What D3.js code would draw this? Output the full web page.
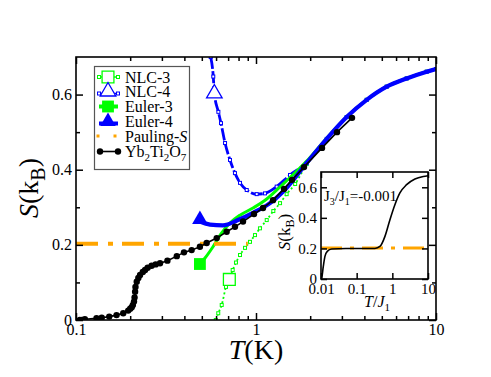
<!DOCTYPE html>
<html>
<head>
<meta charset="utf-8">
<script src="https://cdn.jsdelivr.net/npm/d3@7"></script>
<style>
body { margin: 0; background: #fff; }
svg text { font-family: "Times New Roman", "Liberation Serif", Times, serif !important; fill: #000; }
</style>
</head>
<body>
<svg id="chart"></svg>
<script>
var width = 491;
var height = 377;
var margin = { top: 57, bottom: 57, left: 76, right: 55 };
var serif = "'Times New Roman', 'Liberation Serif', Times, serif";

// Yb2Ti2O7 experiment (black dots)
var ybT = [0.105, 0.108, 0.112, 0.130, 0.139, 0.153, 0.168, 0.183, 0.195, 0.200, 0.204, 0.207, 0.210, 0.2115,
  0.213, 0.214, 0.2175, 0.222, 0.227, 0.235, 0.242, 0.250, 0.263, 0.277, 0.293, 0.322, 0.363, 0.398, 0.439,
  0.488, 0.532, 0.605, 0.687, 0.764, 0.847, 0.975, 1.094, 1.243, 1.431, 1.585, 1.848, 2.327, 2.818, 3.415];
var ybS = [0.0, 0.0, 0.002, 0.0045, 0.006, 0.009, 0.013, 0.018, 0.025, 0.030, 0.034, 0.040, 0.049, 0.060,
  0.075, 0.088, 0.102, 0.112, 0.120, 0.128, 0.133, 0.139, 0.1445, 0.148, 0.151, 0.158, 0.170, 0.180, 0.186,
  0.195, 0.205, 0.218, 0.235, 0.248, 0.262, 0.282, 0.298, 0.319, 0.349, 0.373, 0.407, 0.458, 0.500, 0.538];

// NLC-3 (green dotted)
var nlc3T = [0.598, 0.617, 0.645, 0.681, 0.711, 0.742, 0.774, 0.815, 0.869, 0.926, 0.987, 1.052, 1.147, 1.248,
  1.36, 1.48, 1.65, 1.913, 2.471, 3.19, 4.12, 5.32, 6.87, 8.88, 10];
var nlc3S = [0.0, 0.018, 0.040, 0.088, 0.108, 0.133, 0.153, 0.173, 0.192, 0.208, 0.226, 0.244, 0.266, 0.290,
  0.311, 0.335, 0.362, 0.415, 0.480, 0.540, 0.586, 0.621, 0.643, 0.661, 0.668];

// NLC-4 (blue dashed)
var nlc4T = [0.56, 0.579, 0.587, 0.618, 0.639, 0.673, 0.717, 0.764, 0.815, 0.888, 1.009, 1.122, 1.303, 1.545,
  1.913, 2.471, 3.19, 4.12, 5.32, 6.87, 8.88, 10];
var nlc4S = [0.700, 0.648, 0.603, 0.554, 0.524, 0.471, 0.426, 0.391, 0.365, 0.346, 0.335, 0.337, 0.355, 0.386,
  0.418, 0.482, 0.540, 0.586, 0.621, 0.643, 0.661, 0.668];

// Euler-3 (green solid)
var eul3T = [0.488, 0.521, 0.577, 0.645, 0.717, 0.815, 0.962, 1.147, 1.36, 1.913, 2.471, 3.19, 4.12, 5.32, 6.87, 8.88, 10];
var eul3S = [0.149, 0.165, 0.195, 0.232, 0.258, 0.279, 0.298, 0.322, 0.354, 0.423, 0.484, 0.541, 0.586, 0.621, 0.643, 0.661, 0.668];

// Euler-4 (blue thick)
var eul4T = [0.488, 0.555, 0.655, 0.794, 0.962, 1.196, 1.481, 1.913, 2.471, 3.19, 4.12, 5.32, 6.87, 8.88, 10];
var eul4S = [0.262, 0.254, 0.252, 0.266, 0.285, 0.311, 0.352, 0.418, 0.482, 0.540, 0.586, 0.621, 0.643, 0.661, 0.668];

// Pauling entropy
var paulingS = 0.2027;
var paulT = [0.1, 0.9];

// big markers
var nlc3Mark = [0.711, 0.108];
var nlc4Mark = [0.587, 0.603];

// inset: J3/J1 = -0.001
var insT = [0.01, 0.01046, 0.0116, 0.0129, 0.015, 0.020, 0.05, 0.1, 0.2, 0.326, 0.449, 0.621, 0.857, 1.18, 1.63, 2.51, 4.3, 7.34, 10];
var insS = [0.0, 0.0065, 0.082, 0.148, 0.181, 0.196, 0.200, 0.200, 0.200, 0.200, 0.213, 0.279, 0.388, 0.486, 0.563, 0.617, 0.654, 0.671, 0.676];

var xMajor = [0.1, 1, 10];
var xMinor = [0.2, 0.3, 0.4, 0.5, 0.6, 0.7, 0.8, 0.9, 2, 3, 4, 5, 6, 7, 8, 9];
var yMajor = [0, 0.2, 0.4, 0.6];
var yMinor = [0.1, 0.3, 0.5];
var insXMajor = [0.01, 0.1, 1, 10];
var insYMajor = [0, 0.2, 0.4, 0.6];

var svg = d3.select('#chart')
  .attr('width', width)
  .attr('height', height)
  .attr('font-family', serif);

var x = d3.scaleLog().domain([0.1, 10]).range([margin.left, width - margin.right]);
var y = d3.scaleLinear().domain([0, 0.7]).range([height - margin.bottom, margin.top]);

svg.append("clipPath").attr("id", "clip")
  .append("rect")
  .attr("x", margin.left).attr("y", margin.top)
  .attr("width", width - margin.left - margin.right)
  .attr("height", height - margin.top - margin.bottom);

function zip(a, b) { return a.map((d, i) => [d, b[i]]); }

// axes with inward ticks on all four sides
function drawAxes(xs, ys, xMaj, xMin, yMaj, yMin, big, small, fontSize, xFmt, yFmt) {
  var x0 = xs.range()[0], x1 = xs.range()[1], y0 = ys.range()[0], y1 = ys.range()[1];
  var style = g => {
    g.attr("font-family", serif).attr("font-size", fontSize);
    g.select(".domain").remove();
    g.selectAll("line").attr("stroke-width", 1.5);
  };
  svg.append("g").attr("transform", "translate(0," + y0 + ")")
    .call(d3.axisBottom(xs).tickValues(xMaj).tickSize(-big).tickPadding(4).tickFormat(xFmt)).call(style);
  svg.append("g").attr("transform", "translate(0," + y0 + ")")
    .call(d3.axisBottom(xs).tickValues(xMin).tickSize(-small).tickFormat("")).call(style);
  svg.append("g").attr("transform", "translate(0," + y1 + ")")
    .call(d3.axisTop(xs).tickValues(xMaj).tickSize(-big).tickFormat("")).call(style);
  svg.append("g").attr("transform", "translate(0," + y1 + ")")
    .call(d3.axisTop(xs).tickValues(xMin).tickSize(-small).tickFormat("")).call(style);
  svg.append("g").attr("transform", "translate(" + x0 + ",0)")
    .call(d3.axisLeft(ys).tickValues(yMaj).tickSize(-big).tickPadding(4).tickFormat(yFmt)).call(style);
  svg.append("g").attr("transform", "translate(" + x0 + ",0)")
    .call(d3.axisLeft(ys).tickValues(yMin).tickSize(-small).tickFormat("")).call(style);
  svg.append("g").attr("transform", "translate(" + x1 + ",0)")
    .call(d3.axisRight(ys).tickValues(yMaj).tickSize(-big).tickFormat("")).call(style);
  svg.append("g").attr("transform", "translate(" + x1 + ",0)")
    .call(d3.axisRight(ys).tickValues(yMin).tickSize(-small).tickFormat("")).call(style);
  svg.append("rect")
    .attr("x", x0).attr("y", y1).attr("width", x1 - x0).attr("height", y0 - y1)
    .attr("fill", "none").attr("stroke", "#000").attr("stroke-width", 1.6);
}

var line = d3.line().x(d => x(d[0])).y(d => y(d[1])).curve(d3.curveMonotoneX);
var plot = svg.append("g").attr("clip-path", "url(#clip)");

// NLC-3
plot.append("path").datum(zip(nlc3T, nlc3S))
  .attr("d", line).attr("fill", "none")
  .attr("stroke", "#00ff00").attr("stroke-width", 1.8).attr("stroke-dasharray", "2,2.5");
plot.selectAll("rect.n3").data(zip(nlc3T, nlc3S)).join("rect").attr("class", "n3")
  .attr("x", d => x(d[0]) - 1.5).attr("y", d => y(d[1]) - 1.5).attr("width", 3).attr("height", 3)
  .attr("fill", "#fff").attr("stroke", "#00ff00").attr("stroke-width", 1);

// NLC-4
plot.append("path").datum(zip(nlc4T, nlc4S))
  .attr("d", line).attr("fill", "none")
  .attr("stroke", "#0000ff").attr("stroke-width", 2.8).attr("stroke-dasharray", "12,2.5");
plot.selectAll("rect.n4").data(zip(nlc4T, nlc4S)).join("rect").attr("class", "n4")
  .attr("x", d => x(d[0]) - 1.5).attr("y", d => y(d[1]) - 1.5).attr("width", 3).attr("height", 3)
  .attr("fill", "#fff").attr("stroke", "#0000ff").attr("stroke-width", 1);

// Euler-3
plot.append("path").datum(zip(eul3T, eul3S))
  .attr("d", line).attr("fill", "none")
  .attr("stroke", "#00ff00").attr("stroke-width", 3);

// Euler-4
plot.append("path").datum(zip(eul4T, eul4S))
  .attr("d", line).attr("fill", "none")
  .attr("stroke", "#0000ff").attr("stroke-width", 4.2);

// Pauling
plot.append("path").datum(paulT.map(t => [t, paulingS]))
  .attr("d", d3.line().x(d => x(d[0])).y(d => y(d[1]))).attr("fill", "none")
  .attr("stroke", "#ffa500").attr("stroke-width", 4).attr("stroke-dasharray", "22,10,5,9");

// Yb2Ti2O7
plot.append("path").datum(zip(ybT, ybS))
  .attr("d", d3.line().x(d => x(d[0])).y(d => y(d[1]))).attr("fill", "none")
  .attr("stroke", "#000").attr("stroke-width", 1.6);
plot.selectAll("circle.yb").data(zip(ybT, ybS)).join("circle").attr("class", "yb")
  .attr("cx", d => x(d[0])).attr("cy", d => y(d[1])).attr("r", 3.2).attr("fill", "#000");

// big markers
var sq = d3.symbol(d3.symbolSquare, 140);
var tri = d3.symbol(d3.symbolTriangle, 105);
svg.append("path").attr("d", sq)
  .attr("transform", "translate(" + x(nlc3Mark[0]) + "," + y(nlc3Mark[1]) + ")")
  .attr("fill", "#fff").attr("stroke", "#00ff00").attr("stroke-width", 1.3);
svg.append("path").attr("d", tri)
  .attr("transform", "translate(" + x(nlc4Mark[0]) + "," + y(nlc4Mark[1]) + ")")
  .attr("fill", "#fff").attr("stroke", "#0000ff").attr("stroke-width", 1.3);
svg.append("path").attr("d", sq)
  .attr("transform", "translate(" + x(eul3T[0]) + "," + y(eul3S[0]) + ")")
  .attr("fill", "#00ff00");
svg.append("path").attr("d", tri)
  .attr("transform", "translate(" + x(eul4T[0]) + "," + (y(eul4S[0]) - 2) + ")")
  .attr("fill", "#0000ff");

drawAxes(x, y, xMajor, xMinor, yMajor, yMinor, 7, 4, 16, d => String(d), d => String(d));

// axis titles
var xt = svg.append("text").attr("x", 256).attr("y", 359).attr("text-anchor", "middle").attr("font-size", 28);
xt.append("tspan").attr("font-style", "italic").text("T");
xt.append("tspan").text("(K)");

var yt = svg.append("text").attr("transform", "translate(38,188) rotate(-90)")
  .attr("text-anchor", "middle").attr("font-size", 28);
yt.append("tspan").attr("font-style", "italic").text("S");
yt.append("tspan").text("(k");
yt.append("tspan").attr("dy", 7).attr("font-size", 20).text("B");
yt.append("tspan").attr("dy", -7).text(")");

// legend
var leg = svg.append("g");
leg.append("rect").attr("x", 94.5).attr("y", 66.5).attr("width", 95).attr("height", 103)
  .attr("fill", "#fff").attr("stroke", "#555").attr("stroke-width", 1.2);
var rows = [77, 91.5, 106.5, 121.5, 136, 151.5];
var lx0 = 99, lx1 = 118, lxc = 108, tx = 125;

function legText(yy, parts) {
  var t = leg.append("text").attr("x", tx).attr("y", yy + 5.5).attr("font-size", 16);
  parts.forEach(p => {
    var s = t.append("tspan").text(p.t);
    if (p.i) s.attr("font-style", "italic");
    if (p.sub) s.attr("dy", 4).attr("font-size", 11);
    if (p.up) s.attr("dy", -4);
  });
}

// NLC-3 entry
leg.append("line").attr("x1", lx0).attr("x2", lx1).attr("y1", rows[0]).attr("y2", rows[0])
  .attr("stroke", "#00ff00").attr("stroke-width", 1.5);
[lx0, lx1].forEach(p => leg.append("rect").attr("x", p - 1.5).attr("y", rows[0] - 1.5).attr("width", 3).attr("height", 3)
  .attr("fill", "#fff").attr("stroke", "#00ff00"));
leg.append("path").attr("d", sq).attr("transform", "translate(" + lxc + "," + rows[0] + ")")
  .attr("fill", "#fff").attr("stroke", "#00ff00").attr("stroke-width", 1.3);
legText(rows[0], [{ t: "NLC-3" }]);

// NLC-4 entry
leg.append("line").attr("x1", lx0).attr("x2", lx1).attr("y1", rows[1] + 2).attr("y2", rows[1] + 2)
  .attr("stroke", "#0000ff").attr("stroke-width", 1.5);
[lx0, lx1].forEach(p => leg.append("rect").attr("x", p - 1.5).attr("y", rows[1] + 0.5).attr("width", 3).attr("height", 3)
  .attr("fill", "#fff").attr("stroke", "#0000ff"));
leg.append("path").attr("d", tri).attr("transform", "translate(" + lxc + "," + rows[1] + ")")
  .attr("fill", "#fff").attr("stroke", "#0000ff").attr("stroke-width", 1.3);
legText(rows[1], [{ t: "NLC-4" }]);

// Euler-3 entry
leg.append("line").attr("x1", lx0).attr("x2", lx1).attr("y1", rows[2]).attr("y2", rows[2])
  .attr("stroke", "#00ff00").attr("stroke-width", 4);
leg.append("path").attr("d", sq).attr("transform", "translate(" + lxc + "," + rows[2] + ")").attr("fill", "#00ff00");
legText(rows[2], [{ t: "Euler-3" }]);

// Euler-4 entry
leg.append("line").attr("x1", lx0).attr("x2", lx1).attr("y1", rows[3] + 2).attr("y2", rows[3] + 2)
  .attr("stroke", "#0000ff").attr("stroke-width", 4);
leg.append("path").attr("d", tri).attr("transform", "translate(" + lxc + "," + rows[3] + ")").attr("fill", "#0000ff");
legText(rows[3], [{ t: "Euler-4" }]);

// Pauling entry
[98, 115].forEach(p => leg.append("rect").attr("x", p - 1.5).attr("y", rows[4] - 1.5).attr("width", 3).attr("height", 3)
  .attr("fill", "#ffa500"));
legText(rows[4], [{ t: "Pauling-" }, { t: "S", i: true }]);

// Yb2Ti2O7 entry
leg.append("line").attr("x1", 100).attr("x2", 118).attr("y1", rows[5]).attr("y2", rows[5])
  .attr("stroke", "#000").attr("stroke-width", 1.6);
[100, 118].forEach(p => leg.append("circle").attr("cx", p).attr("cy", rows[5]).attr("r", 3.2).attr("fill", "#000"));
legText(rows[5], [{ t: "Yb" }, { t: "2", sub: true }, { t: "Ti", up: true }, { t: "2", sub: true }, { t: "O", up: true }, { t: "7", sub: true }]);

// inset
var ix = d3.scaleLog().domain([0.01, 10]).range([321, 428]);
var iy = d3.scaleLinear().domain([0, 0.7]).range([279, 172]);
svg.append("rect").attr("x", 321).attr("y", 172).attr("width", 107).attr("height", 107).attr("fill", "#fff");

svg.append("path").datum(insT.map(t => [t, paulingS]))
  .attr("d", d3.line().x(d => ix(d[0])).y(d => iy(d[1]))).attr("fill", "none")
  .attr("stroke", "#ffa500").attr("stroke-width", 3.2).attr("stroke-dasharray", "21,8,4,8");
svg.append("path").datum(zip(insT, insS))
  .attr("d", d3.line().x(d => ix(d[0])).y(d => iy(d[1])).curve(d3.curveMonotoneX))
  .attr("fill", "none").attr("stroke", "#000").attr("stroke-width", 1.6);

drawAxes(ix, iy, insXMajor, [], insYMajor, [], 6, 0, 15, d => String(d), d => String(d));

var it = svg.append("text").attr("x", 377).attr("y", 307).attr("text-anchor", "middle").attr("font-size", 16);
it.append("tspan").attr("font-style", "italic").text("T");
it.append("tspan").text("/");
it.append("tspan").attr("font-style", "italic").text("J");
it.append("tspan").attr("dy", 4).attr("font-size", 11).text("1");

var iyt = svg.append("text").attr("transform", "translate(290,232) rotate(-90)")
  .attr("text-anchor", "middle").attr("font-size", 17);
iyt.append("tspan").attr("font-style", "italic").text("S");
iyt.append("tspan").text("(k");
iyt.append("tspan").attr("dy", 4).attr("font-size", 12).text("B");
iyt.append("tspan").attr("dy", -4).text(")");

var jt = svg.append("text").attr("x", 324).attr("y", 201).attr("font-size", 15);
jt.append("tspan").text("J");
jt.append("tspan").attr("dy", 4).attr("font-size", 10).text("3");
jt.append("tspan").attr("dy", -4).text("/J");
jt.append("tspan").attr("dy", 4).attr("font-size", 10).text("1");
jt.append("tspan").attr("dy", -4).text("=-0.001");
</script>
</body>
</html>
